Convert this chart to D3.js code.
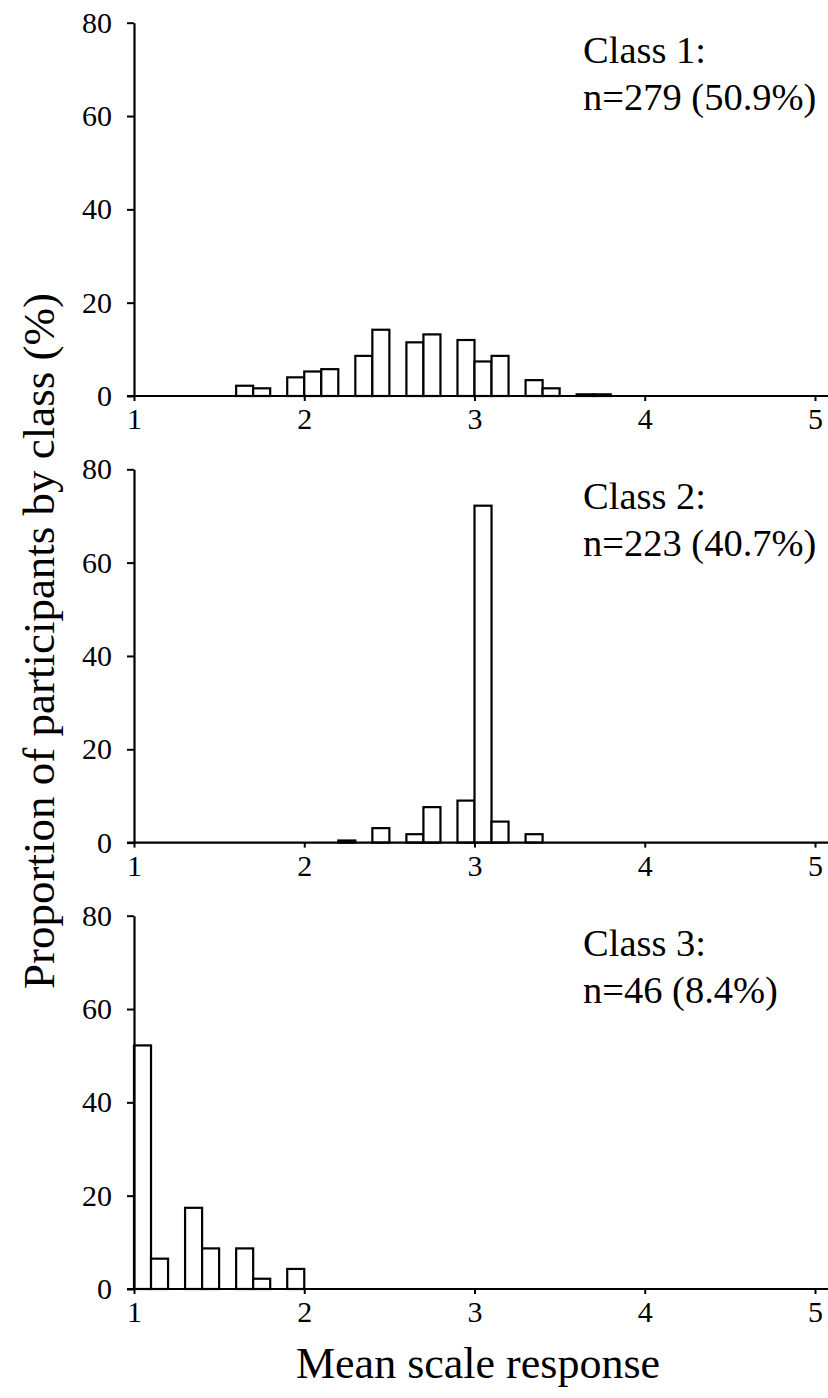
<!DOCTYPE html>
<html>
<head>
<meta charset="utf-8">
<script src="https://cdn.jsdelivr.net/npm/d3@7"></script>
<style>
  html, body { margin: 0; padding: 0; background: #fff; }
  svg { display: block; }
</style>
</head>
<body>
<svg id="chart" width="828" height="1398"></svg>
<script>
// ---- Data (bin start values, width 0.1; values = % of participants in class) ----
const binWidth = 0.1;

const class1Bins   = [1.6, 1.7, 1.9, 2.0, 2.1, 2.3, 2.4, 2.6, 2.7, 2.9, 3.0, 3.1, 3.3, 3.4, 3.6, 3.7];
const class1Values = [2.2, 1.65, 4.0, 5.25, 5.75, 8.6, 14.2, 11.5, 13.2, 12.0, 7.4, 8.6, 3.4, 1.65, 0.36, 0.36];

const class2Bins   = [2.2, 2.4, 2.6, 2.7, 2.9, 3.0, 3.1, 3.3];
const class2Values = [0.45, 3.1, 1.8, 7.6, 9.0, 72.2, 4.5, 1.8];

const class3Bins   = [1.0, 1.1, 1.3, 1.4, 1.6, 1.7, 1.9];
const class3Values = [52.2, 6.5, 17.4, 8.7, 8.7, 2.2, 4.3];

const classLabels = ["Class 1:", "Class 2:", "Class 3:"];
const classCounts = ["n=279 (50.9%)", "n=223 (40.7%)", "n=46 (8.4%)"];

const xTicks = [1, 2, 3, 4, 5];
const yTicks = [0, 20, 40, 60, 80];

const xTitle = "Mean scale response";
const yTitle = "Proportion of participants by class (%)";

// ---- Layout ----
const FONT = "Liberation Serif, DejaVu Serif, serif";
const svg = d3.select("#chart");
const panels = [
  { bins: class1Bins, values: class1Values, label: classLabels[0], count: classCounts[0], top: 22.7, bottom: 396 },
  { bins: class2Bins, values: class2Values, label: classLabels[1], count: classCounts[1], top: 469.3, bottom: 842.6 },
  { bins: class3Bins, values: class3Values, label: classLabels[2], count: classCounts[2], top: 915.7, bottom: 1289 }
];

const x = d3.scaleLinear().domain([1, 5]).range([134, 815]);
const tickFont = 30;

panels.forEach(p => {
  const y = d3.scaleLinear().domain([0, 80]).range([p.bottom, p.top]);
  const g = svg.append("g");

  // bars
  const data = p.bins.map((b, i) => ({ x0: b, v: p.values[i] }));
  g.selectAll("rect.bar").data(data).enter().append("rect")
    .attr("class", "bar")
    .attr("x", d => x(d.x0))
    .attr("width", d => x(d.x0 + binWidth) - x(d.x0))
    .attr("y", d => y(d.v))
    .attr("height", d => y(0) - y(d.v))
    .attr("fill", "#fff")
    .attr("stroke", "#000")
    .attr("stroke-width", 2.2);

  // y axis
  const ya = g.append("g")
    .attr("transform", `translate(${x(1)},0)`)
    .call(d3.axisLeft(y).tickValues(yTicks).tickSize(7).tickSizeOuter(0).tickPadding(15));
  ya.attr("font-family", null).attr("font-size", null);
  ya.selectAll(".tick text").style("font-family", FONT).style("font-size", tickFont + "px");
  ya.select(".domain").attr("stroke-width", 2.2);
  ya.selectAll(".tick line").attr("stroke-width", 2);

  // x axis
  const xa = g.append("g")
    .attr("transform", `translate(0,${p.bottom})`)
    .call(d3.axisBottom(x).tickValues(xTicks).tickSize(5).tickSizeOuter(0).tickPadding(7).tickFormat(d3.format("d")));
  xa.attr("font-family", null).attr("font-size", null);
  xa.selectAll(".tick text").style("font-family", FONT).style("font-size", tickFont + "px");
  xa.select(".domain").remove();
  xa.append("line")
    .attr("x1", x(1) - 7).attr("x2", 828)
    .attr("y1", 0).attr("y2", 0)
    .attr("stroke", "#000").attr("stroke-width", 2.2);
  xa.selectAll(".tick line").attr("stroke-width", 2);

  // class annotation
  g.append("text")
    .attr("x", 583).attr("y", p.top + 40)
    .style("font-family", FONT)
    .style("font-size", "38.5px")
    .text(p.label);
  g.append("text")
    .attr("x", 583).attr("y", p.top + 87)
    .style("font-family", FONT)
    .style("font-size", "38.5px")
    .text(p.count);
});

// axis titles
svg.append("text")
  .attr("x", 478)
  .attr("y", 1378)
  .attr("text-anchor", "middle")
  .style("font-family", FONT)
  .style("font-size", "44px")
  .text(xTitle);

svg.append("text")
  .attr("transform", `translate(54, 641) rotate(-90)`)
  .attr("text-anchor", "middle")
  .style("font-family", FONT)
  .style("font-size", "45px")
  .text(yTitle);
</script>
</body>
</html>
